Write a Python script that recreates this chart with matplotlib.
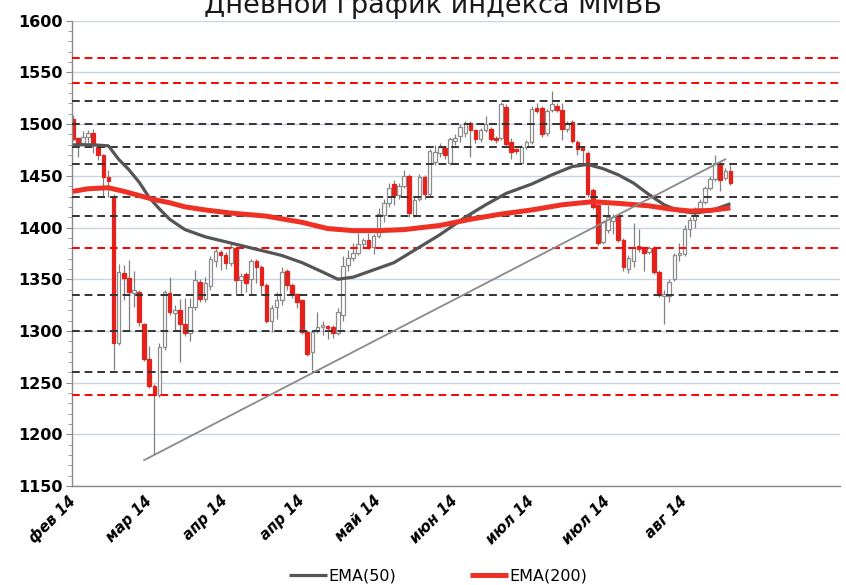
import matplotlib
matplotlib.use('Agg')
import matplotlib.pyplot as plt
from matplotlib.lines import Line2D
from matplotlib.ticker import MultipleLocator

# ---- data ----
opens = [1505, 1487, 1482, 1488, 1491, 1478, 1470, 1449, 1430, 1288,
         1356, 1351, 1337, 1338, 1307, 1273, 1247, 1238, 1284, 1337,
         1317, 1320, 1307, 1298, 1323, 1347, 1331, 1343, 1368, 1376,
         1373, 1366, 1380, 1349, 1355, 1350, 1368, 1362, 1344, 1310,
         1323, 1330, 1358, 1344, 1336, 1330, 1299, 1280, 1300, 1304,
         1305, 1304, 1298, 1315, 1364, 1371, 1375, 1384, 1388, 1381,
         1392, 1412, 1424, 1442, 1431, 1440, 1450, 1412, 1428, 1449,
         1432, 1463, 1472, 1477, 1462, 1484, 1489, 1491, 1501, 1494,
         1486, 1494, 1495, 1487, 1487, 1517, 1483, 1476, 1462, 1478,
         1483, 1516, 1516, 1491, 1514, 1518, 1514, 1495, 1502, 1483,
         1477, 1472, 1436, 1422, 1386, 1398, 1406, 1410, 1388, 1360,
         1368, 1382, 1379, 1376, 1380, 1357, 1334, 1334, 1350, 1373,
         1374, 1399, 1407, 1418, 1425, 1438, 1447, 1461, 1448, 1455]
highs = [1509, 1488, 1493, 1494, 1495, 1480, 1471, 1456, 1432, 1365,
         1364, 1369, 1358, 1340, 1308, 1285, 1249, 1288, 1340, 1352,
         1325, 1331, 1332, 1332, 1359, 1350, 1352, 1372, 1380, 1378,
         1376, 1386, 1382, 1356, 1357, 1370, 1370, 1364, 1346, 1325,
         1338, 1362, 1360, 1346, 1337, 1331, 1300, 1301, 1318, 1310,
         1306, 1306, 1322, 1372, 1378, 1385, 1395, 1390, 1395, 1394,
         1419, 1428, 1443, 1446, 1443, 1456, 1452, 1430, 1452, 1451,
         1476, 1480, 1482, 1479, 1488, 1490, 1500, 1503, 1503, 1495,
         1496, 1508, 1497, 1489, 1521, 1519, 1487, 1477, 1480, 1485,
         1518, 1520, 1518, 1515, 1532, 1520, 1520, 1503, 1504, 1485,
         1478, 1474, 1438, 1424, 1407, 1422, 1413, 1412, 1390, 1373,
         1404, 1399, 1381, 1382, 1382, 1359, 1340, 1350, 1375, 1385,
         1402, 1410, 1420, 1428, 1440, 1450, 1470, 1463, 1458, 1460]
lows = [1484, 1468, 1480, 1482, 1472, 1465, 1430, 1430, 1262, 1286,
        1330, 1300, 1323, 1305, 1271, 1245, 1181, 1236, 1282, 1315,
        1300, 1270, 1295, 1290, 1320, 1328, 1328, 1340, 1362, 1359,
        1360, 1363, 1336, 1336, 1338, 1336, 1346, 1335, 1308, 1299,
        1312, 1325, 1340, 1332, 1322, 1297, 1276, 1262, 1298, 1296,
        1292, 1293, 1296, 1310, 1358, 1368, 1373, 1380, 1379, 1374,
        1390, 1405, 1420, 1422, 1428, 1438, 1410, 1410, 1426, 1428,
        1430, 1460, 1468, 1466, 1460, 1480, 1483, 1488, 1468, 1482,
        1483, 1492, 1484, 1482, 1485, 1479, 1466, 1471, 1462, 1476,
        1481, 1511, 1488, 1489, 1512, 1512, 1485, 1492, 1482, 1470,
        1460, 1430, 1418, 1383, 1384, 1395, 1394, 1386, 1358, 1356,
        1362, 1376, 1358, 1374, 1355, 1333, 1307, 1328, 1348, 1368,
        1372, 1391, 1400, 1414, 1423, 1436, 1445, 1435, 1446, 1441]
closes = [1486, 1482, 1488, 1491, 1481, 1470, 1449, 1445, 1288, 1357,
          1351, 1338, 1340, 1309, 1273, 1247, 1238, 1284, 1338, 1318,
          1320, 1307, 1298, 1323, 1349, 1331, 1346, 1370, 1377, 1373,
          1366, 1381, 1349, 1353, 1346, 1368, 1362, 1344, 1310, 1322,
          1330, 1357, 1344, 1336, 1328, 1299, 1278, 1299, 1304, 1306,
          1303, 1298, 1318, 1363, 1371, 1375, 1384, 1388, 1381, 1392,
          1413, 1424, 1438, 1431, 1440, 1450, 1414, 1427, 1449, 1432,
          1474, 1473, 1478, 1470, 1486, 1487, 1497, 1501, 1494, 1486,
          1494, 1500, 1486, 1485, 1519, 1481, 1473, 1474, 1478, 1483,
          1515, 1513, 1490, 1513, 1519, 1514, 1495, 1501, 1484, 1476,
          1475, 1432, 1420, 1385, 1405, 1410, 1410, 1388, 1362, 1371,
          1381, 1379, 1375, 1380, 1357, 1335, 1336, 1347, 1373, 1375,
          1399, 1407, 1412, 1425, 1438, 1447, 1462, 1446, 1455, 1443]

tick_pos = [0, 15, 30, 45, 60, 75, 90, 105, 120]
tick_labels = ["фев 14", "мар 14", "апр 14", "апр 14", "май 14",
               "июн 14", "июл 14", "июл 14", "авг 14"]

ema50_idx = [0, 4, 7, 9, 11, 13, 15, 17, 19, 22, 26, 31, 36, 41, 45, 49,
             52, 55, 59, 63, 67, 72, 77, 81, 85, 90, 94, 98, 101, 104,
             107, 110, 113, 116, 119, 122, 125, 129]
ema50 = [1480, 1480, 1479, 1466, 1456, 1444, 1429, 1418, 1408, 1398, 1391,
         1385, 1379, 1373, 1366, 1357, 1350, 1352, 1359, 1366, 1378, 1393,
         1410, 1422, 1433, 1442, 1451, 1459, 1461, 1457, 1451, 1443, 1432,
         1422, 1416, 1414, 1416, 1423]

ema200_idx = [0, 3, 7, 10, 13, 16, 19, 22, 26, 31, 38, 45, 50, 55, 60, 65,
              72, 78, 84, 90, 96, 102, 108, 113, 117, 121, 125, 129]
ema200 = [1435, 1437.5, 1438.5, 1435, 1431, 1427, 1424, 1420, 1417, 1414,
          1411, 1405, 1399, 1397, 1397, 1398, 1402, 1408, 1413, 1417,
          1422, 1425, 1423, 1421, 1418, 1416, 1416.5, 1419]

trend_idx = [14, 128]
trend_val = [1175, 1466]

levels_black = [1522, 1500, 1478, 1461, 1430, 1411, 1335, 1300, 1260]
levels_red = [1564, 1540, 1380, 1238]

# ---- figure ----
W, H = 846, 585
fig = plt.figure(figsize=(W / 100, H / 100), dpi=100)
left, right, top, bottom = 72, 840, 20.75, 486
ax = fig.add_axes([left / W, 1 - bottom / H, (right - left) / W, (bottom - top) / H])
ax.set_xlim(-0.15, 150.5)
ax.set_ylim(1150, 1600)

ax.yaxis.set_major_locator(MultipleLocator(50))
ax.yaxis.set_minor_locator(MultipleLocator(10))
ax.yaxis.grid(True, which='major', color='#c8d3e3', lw=1.0, zorder=0)
ax.set_axisbelow(True)

for s in ['top', 'right']:
    ax.spines[s].set_visible(False)
for s in ['left', 'bottom']:
    ax.spines[s].set_color('#8a8a8a')
    ax.spines[s].set_linewidth(1.0)

ax.tick_params(axis='y', which='major', direction='out', length=4, color='#8a8a8a',
               labelsize=11.5, pad=3)
ax.tick_params(axis='y', which='minor', direction='out', length=3, color='#8a8a8a')
for lab in ax.get_yticklabels():
    lab.set_fontweight('bold')

ax.set_xticks(tick_pos)
ax.set_xticklabels(tick_labels, rotation=45, ha='right', va='center',
                   rotation_mode='anchor', fontsize=10.5, fontweight='bold',
                   fontstyle='italic')
ax.tick_params(axis='x', length=0, pad=9)

# horizontal levels
for v in levels_black:
    ax.axhline(v, color='#333333', lw=1.4, ls=(0, (4, 2.5)), zorder=3)
for v in levels_red:
    ax.axhline(v, color='#ff0000', lw=1.4, ls=(0, (4, 2.5)), zorder=3)

# candles
for i, (o, h, l, c) in enumerate(zip(opens, highs, lows, closes)):
    ax.vlines(i, l, h, color='#808080', lw=0.9, zorder=2)
    if c >= o:
        ax.bar(i, max(c - o, 0.8), bottom=o, width=0.7, color='white',
               edgecolor='#8c8c8c', linewidth=0.9, zorder=2.5)
    else:
        ax.bar(i, o - c, bottom=c, width=0.7, color='#e5211b',
               edgecolor='#e5211b', linewidth=0.9, zorder=2.5)

# EMA lines
l50, = ax.plot(ema50_idx, ema50, color='#555555', lw=2.3, zorder=4,
               solid_capstyle='butt')
l200, = ax.plot(ema200_idx, ema200, color='#ee3124', lw=3.6, zorder=4,
                solid_capstyle='butt')

# trendline
ax.plot(trend_idx, trend_val, color='#8a8a8a', lw=1.3, zorder=5)

# title (partly cut at the top as in the reference)
fig.text(433 / W, 1 - 13 / H, "Дневной график индекса ММВБ", ha='center',
         va='baseline', fontsize=19.5, color='#1a1a1a')

# legend
fig.legend([l50, l200], ["EMA(50)", "EMA(200)"], loc='center',
           bbox_to_anchor=(438 / W, 1 - 576 / H), ncol=2, frameon=False,
           fontsize=11.5, handlelength=2.4, handletextpad=0.1, columnspacing=4.6)

fig.savefig('out.png', dpi=100)
